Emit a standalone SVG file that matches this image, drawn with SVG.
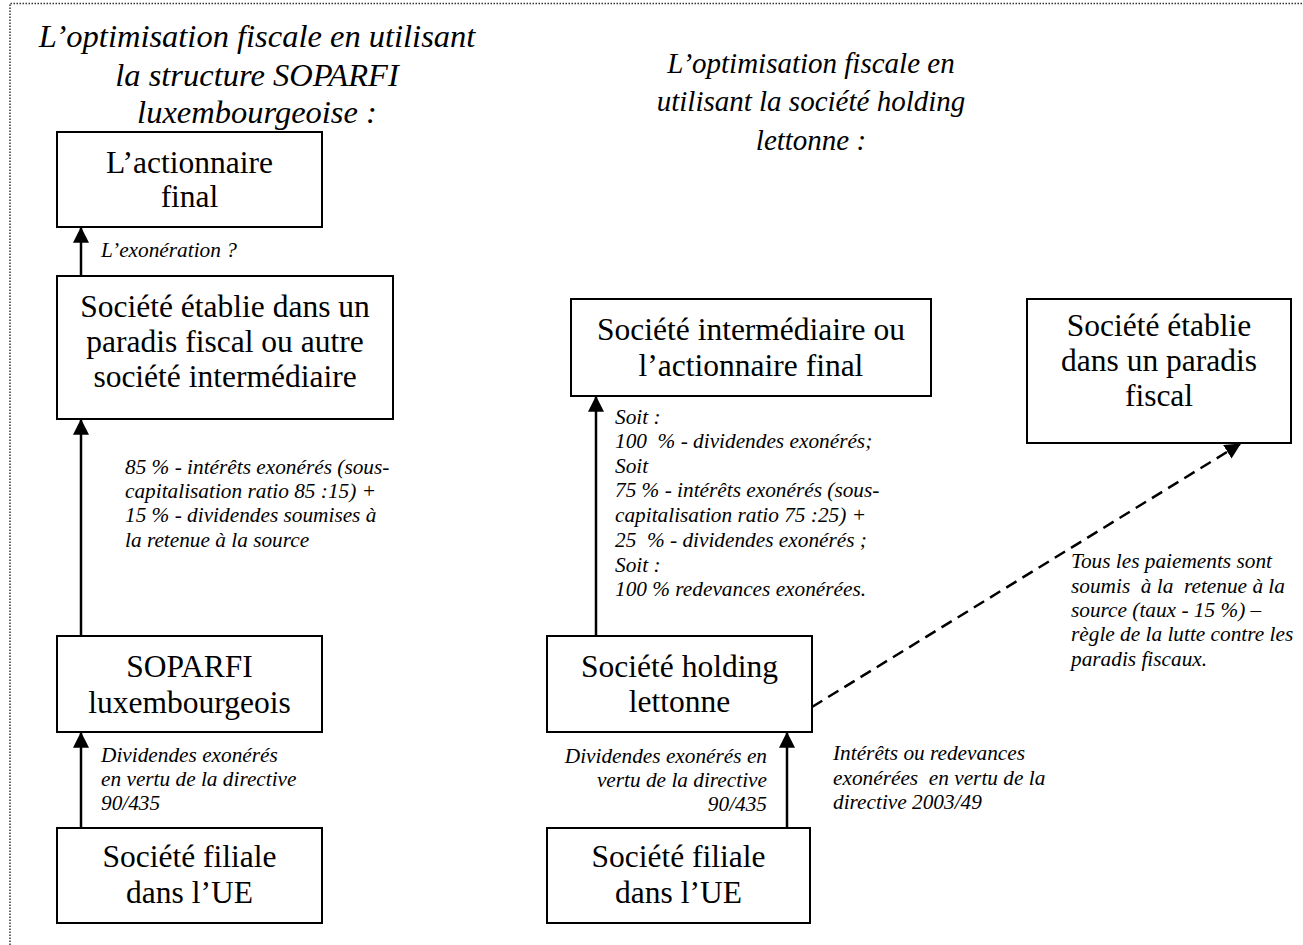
<svg xmlns="http://www.w3.org/2000/svg" width="1303" height="945" viewBox="0 0 1303 945">
<style>
.bg{fill:#ffffff}
.border{stroke:#333;stroke-width:1.5;stroke-dasharray:1.5 1.5;fill:none}
.box{fill:#ffffff;stroke:#000;stroke-width:2}
.t{font-family:"Liberation Serif","Times New Roman",serif;font-size:31.5px;fill:#000;text-anchor:middle}
.h{font-family:"Liberation Serif","Times New Roman",serif;font-style:italic;fill:#000;text-anchor:middle}
.l{font-family:"Liberation Serif","Times New Roman",serif;font-style:italic;font-size:21.3px;fill:#000;white-space:pre}
.arr{stroke:#000;stroke-width:2.5;fill:none;marker-end:url(#ah)}
.dash{stroke:#000;stroke-width:2.5;fill:none;stroke-dasharray:12 7;marker-end:url(#ah)}
</style>
<defs>
<marker id="ah" markerUnits="userSpaceOnUse" markerWidth="16" markerHeight="16" viewBox="0 0 14 14" refX="13" refY="7" orient="auto">
<path d="M0,0 L14,7 L0,14 Z" fill="#000"/>
</marker>
</defs>
<rect class="bg" x="0" y="0" width="1303" height="945"/>
<path class="border" d="M10,945 L10,3.5 L1303,3.5"/>

<g id="titles">
<text class="h" style="font-size:32.5px" x="257" y="47">L’optimisation fiscale en utilisant</text>
<text class="h" style="font-size:32.5px" x="257" y="86">la structure SOPARFI</text>
<text class="h" style="font-size:32.5px" x="257" y="123">luxembourgeoise :</text>
<text class="h" style="font-size:29px" x="811" y="73">L’optimisation fiscale en</text>
<text class="h" style="font-size:29px" x="811" y="111">utilisant la société holding</text>
<text class="h" style="font-size:29px" x="811" y="150">lettonne :</text>
</g>

<g id="connectors">
<line class="arr" x1="81" y1="276" x2="81" y2="228"/>
<line class="arr" x1="81" y1="636" x2="81" y2="420"/>
<line class="arr" x1="81" y1="828" x2="81" y2="733"/>
<line class="arr" x1="596" y1="636" x2="596" y2="397"/>
<line class="arr" x1="787" y1="828" x2="787" y2="733"/>
<line class="dash" x1="812" y1="707" x2="1240" y2="444"/>
</g>

<g id="labels">
<text class="l" x="101" y="257">L’exonération ?</text>
<text class="l" x="125" y="474">85 % - intérêts exonérés (sous-</text>
<text class="l" x="125" y="498">capitalisation ratio 85 :15) +</text>
<text class="l" x="125" y="522">15 % - dividendes soumises à</text>
<text class="l" x="125" y="547">la retenue à la source</text>
<text class="l" x="101" y="762">Dividendes exonérés</text>
<text class="l" x="101" y="786">en vertu de la directive</text>
<text class="l" x="101" y="810">90/435</text>
<text class="l" x="615" y="424">Soit :</text>
<text class="l" x="615" y="448">100  % - dividendes exonérés;</text>
<text class="l" x="615" y="473">Soit</text>
<text class="l" x="615" y="497">75 % - intérêts exonérés (sous-</text>
<text class="l" x="615" y="522">capitalisation ratio 75 :25) +</text>
<text class="l" x="615" y="547">25  % - dividendes exonérés ;</text>
<text class="l" x="615" y="572">Soit :</text>
<text class="l" x="615" y="596">100 % redevances exonérées.</text>
<text class="l" x="1071" y="568">Tous les paiements sont</text>
<text class="l" x="1071" y="593">soumis  à la  retenue à la</text>
<text class="l" x="1071" y="617">source (taux - 15 %) –</text>
<text class="l" x="1071" y="641">règle de la lutte contre les</text>
<text class="l" x="1071" y="666">paradis fiscaux.</text>
<text class="l" x="767" y="763" style="text-anchor:end">Dividendes exonérés en</text>
<text class="l" x="767" y="787" style="text-anchor:end">vertu de la directive</text>
<text class="l" x="767" y="811" style="text-anchor:end">90/435</text>
<text class="l" x="833" y="760">Intérêts ou redevances</text>
<text class="l" x="833" y="785">exonérées  en vertu de la</text>
<text class="l" x="833" y="809">directive 2003/49</text>
</g>

<g id="n-actionnaire-final">
<rect class="box" x="57" y="132" width="265" height="95"/>
<text class="t" x="189.5" y="173">L’actionnaire</text>
<text class="t" x="189.5" y="207">final</text>
</g>
<g id="n-societe-paradis-left">
<rect class="box" x="57" y="276" width="336" height="143"/>
<text class="t" x="225" y="317">Société établie dans un</text>
<text class="t" x="225" y="352">paradis fiscal ou autre</text>
<text class="t" x="225" y="387">société intermédiaire</text>
</g>
<g id="n-soparfi">
<rect class="box" x="57" y="636" width="265" height="96"/>
<text class="t" x="189.5" y="677">SOPARFI</text>
<text class="t" x="189.5" y="713">luxembourgeois</text>
</g>
<g id="n-filiale-left">
<rect class="box" x="57" y="828" width="265" height="95"/>
<text class="t" x="189.5" y="867">Société filiale</text>
<text class="t" x="189.5" y="903">dans l’UE</text>
</g>
<g id="n-intermediaire">
<rect class="box" x="571" y="299" width="360" height="97"/>
<text class="t" x="751" y="340">Société intermédiaire ou</text>
<text class="t" x="751" y="376">l’actionnaire final</text>
</g>
<g id="n-paradis-right">
<rect class="box" x="1027" y="299" width="264" height="144"/>
<text class="t" x="1159" y="336">Société établie</text>
<text class="t" x="1159" y="371">dans un paradis</text>
<text class="t" x="1159" y="406">fiscal</text>
</g>
<g id="n-holding">
<rect class="box" x="547" y="636" width="265" height="96"/>
<text class="t" x="679.5" y="677">Société holding</text>
<text class="t" x="679.5" y="712">lettonne</text>
</g>
<g id="n-filiale-right">
<rect class="box" x="547" y="828" width="263" height="95"/>
<text class="t" x="678.5" y="867">Société filiale</text>
<text class="t" x="678.5" y="903">dans l’UE</text>
</g>
</svg>
